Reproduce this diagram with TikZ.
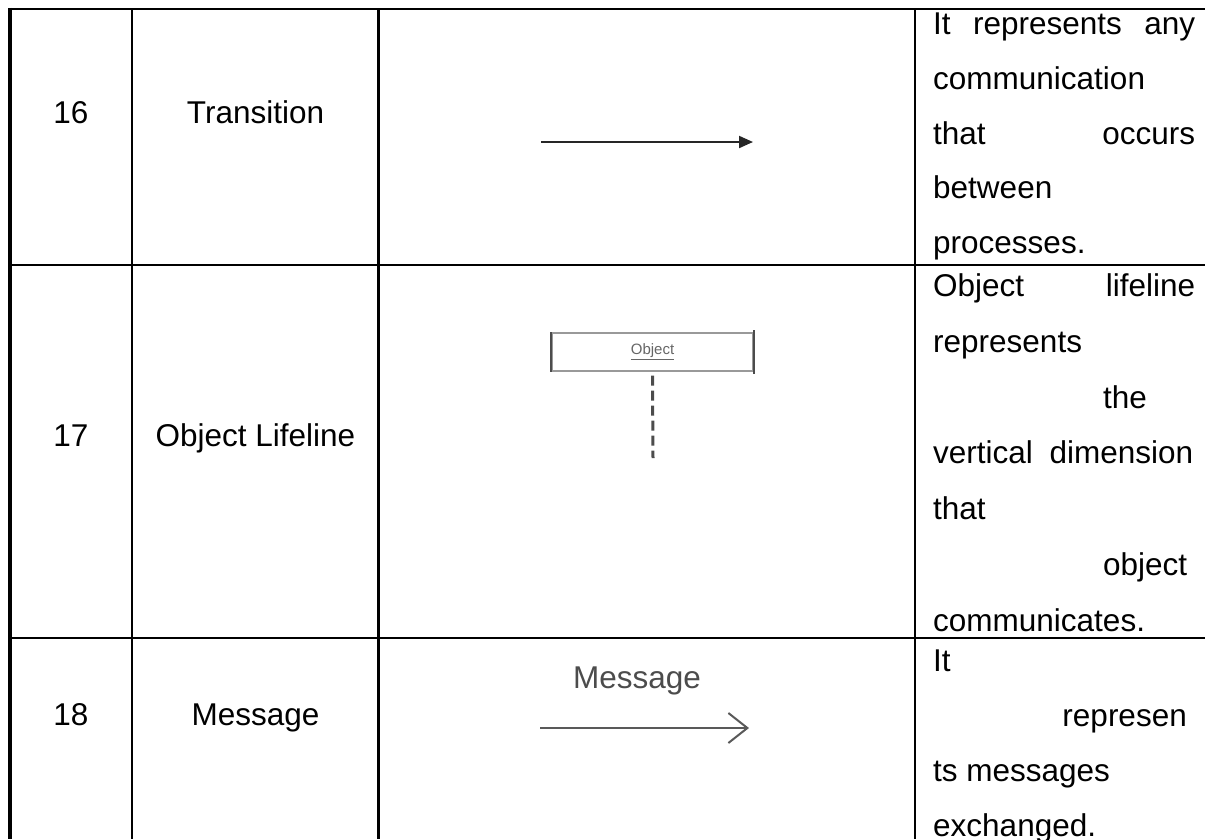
\documentclass[tikz,border=0pt]{standalone}
\usepackage{fontspec}
\setmainfont{Liberation Sans}
\usetikzlibrary{arrows.meta}
\begin{document}
\begin{tikzpicture}[x=1pt,y=-1pt,
  rule/.style={line width=2.5pt, black},
  outer/.style={line width=4pt, black},
  body/.style={font=\fontsize{31.5}{38}\selectfont, inner sep=0pt, text=black},
  cell/.style={body, anchor=base},
  desc/.style={body, anchor=base west},
  descr/.style={body, anchor=base east},
  transarrow/.style={line width=2pt, black!85, -{Triangle[length=14pt,width=12pt]}},
  objbox/.style={draw=black!40, line width=1.4pt, minimum width=201pt, minimum height=38pt, inner sep=0pt},
  objside/.style={black!70, line width=2pt},
  lifeline/.style={black!70, line width=3pt, dash pattern=on 10pt off 5pt},
  msgarrow/.style={black!65, line width=2pt, -{Straight Barb[length=19pt,width=30pt,line width=2pt]}}]
\useasboundingbox (0,0) rectangle (1205,839);

% table grid
\draw[rule] (10,9) -- (1205,9);
\draw[rule] (10,265) -- (1205,265);
\draw[rule] (10,638) -- (1205,638);
\draw[rule] (132,9) -- (132,839);
\draw[rule] (378.5,9) -- (378.5,839);
\draw[rule] (915,9) -- (915,839);
\draw[outer] (10,7.75) -- (10,839);

% row 16
\node[cell] (n16) at (71,123) {16};
\node[cell] (t16) at (255.5,123) {Transition};
\coordinate (ts) at (541,142);
\coordinate (te) at (753,142);
\draw[transarrow] (ts) -- (te);
\node[desc] (d16a) at (933,34) {\makebox[262pt][s]{It represents any}};
\node[desc] (d16b) at (933,89) {communication};
\node[desc] (d16c) at (933,144) {\makebox[262pt][s]{that occurs}};
\node[desc] (d16d) at (933,198) {between};
\node[desc] (d16e) at (933,253) {processes.};

% row 17
\node[cell] (n17) at (71,446) {17};
\node[cell] (t17) at (255.5,446) {Object Lifeline};
\node[objbox] (obj) at (652.5,352) {\fontsize{15}{17}\selectfont\color{black!60}\underline{Object}};
\draw[objside] (obj.north west) -- (obj.south west);
\draw[objside] ([yshift=2pt]obj.north east) -- ([yshift=-2pt]obj.south east);
\coordinate (lifeend) at (653,458);
\draw[lifeline] ([yshift=-4pt]obj.south) -- (lifeend);
\node[desc] (d17a) at (933,296) {\makebox[262pt][s]{Object lifeline}};
\node[desc] (d17b) at (933,352) {represents};
\node[desc] (d17c) at (1103,408) {the};
\node[desc] (d17d) at (933,463) {\makebox[260pt][s]{vertical dimension}};
\node[desc] (d17e) at (933,519) {that};
\node[desc] (d17f) at (1103,575) {object};
\node[desc] (d17g) at (933,631) {communicates.};

% row 18
\node[cell] (n18) at (71,725) {18};
\node[cell] (t18) at (255.5,725) {Message};
\node[cell, text=black!70] (mlabel) at (637,688) {Message};
\coordinate (ms) at (540,728);
\coordinate (me) at (749,728);
\draw[msgarrow] (ms) -- (me);
\node[desc] (d18a) at (933,671) {It};
\node[descr] (d18b) at (1187,726) {represen};
\node[desc] (d18c) at (933,781) {ts messages};
\node[desc] (d18d) at (933,836) {exchanged.};
\end{tikzpicture}
\end{document}
